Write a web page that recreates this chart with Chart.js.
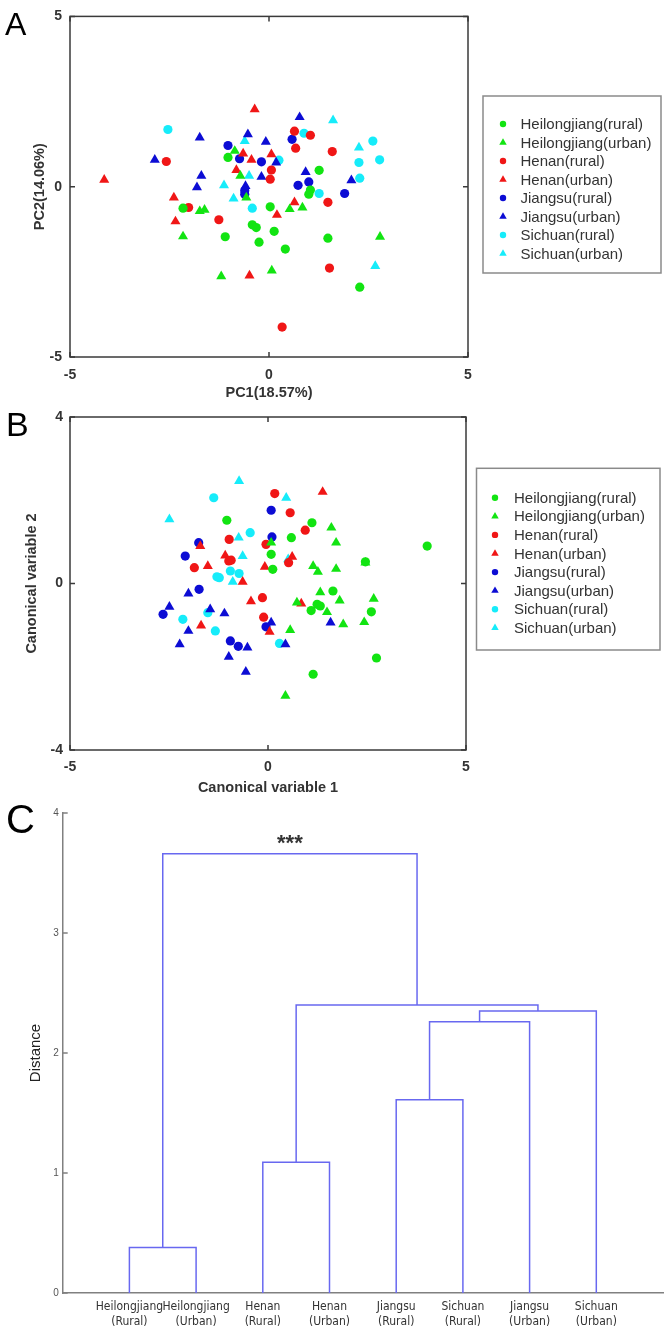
<!DOCTYPE html>
<html><head><meta charset="utf-8">
<script src="https://cdn.jsdelivr.net/npm/chart.js@4.4.1/dist/chart.umd.min.js"></script>
<style>
html,body{margin:0;padding:0;background:#fff;}
#wrap{position:relative;width:672px;height:1341px;overflow:hidden;background:#fff;}
.panel{position:absolute;left:0;width:672px;}
.lbl{position:absolute;font-family:'Liberation Sans',Arial,sans-serif;color:#000;line-height:1;}
</style></head><body>
<div id="wrap">
  <div class="panel" style="top:0;height:400px"><canvas id="cA" width="672" height="400" style="width:672px;height:400px"></canvas></div>
  <div class="panel" style="top:400px;height:400px"><canvas id="cB" width="672" height="400" style="width:672px;height:400px"></canvas></div>
  <div class="panel" style="top:800px;height:541px"><canvas id="cC" width="672" height="541" style="width:672px;height:541px"></canvas></div>
  <div class="lbl" style="left:5px;top:8px;font-size:32px">A</div>
  <div class="lbl" style="left:6px;top:407px;font-size:34px">B</div>
  <div class="lbl" style="left:6px;top:799px;font-size:40px">C</div>
</div>
<script>
// ---------- data ----------
const seriesNames = ['Heilongjiang(rural)','Heilongjiang(urban)','Henan(rural)','Henan(urban)','Jiangsu(rural)','Jiangsu(urban)','Sichuan(rural)','Sichuan(urban)'];

// Panel A: PCA scores [PC1, PC2]
const A_hljR = [[-1.03,0.86],[1.26,0.48],[1.04,-0.10],[1.00,-0.22],[-2.16,-0.63],[0.03,-0.59],[-0.42,-1.12],[-0.32,-1.20],[0.13,-1.31],[-1.10,-1.47],[-0.25,-1.63],[1.48,-1.51],[0.41,-1.83],[2.28,-2.95]];
const A_hljU = [[-0.86,1.05],[-0.72,0.32],[-0.57,-0.32],[-1.74,-0.72],[-1.62,-0.68],[-2.16,-1.46],[-1.20,-2.63],[0.07,-2.46],[0.52,-0.66],[0.84,-0.61],[2.79,-1.47]];
const A_henR = [[-2.58,0.74],[-2.02,-0.61],[-1.26,-0.97],[0.06,0.49],[0.03,0.22],[0.64,1.63],[0.67,1.13],[1.04,1.51],[1.59,1.03],[1.48,-0.46],[1.52,-2.39],[0.33,-4.12]];
const A_henU = [[-4.14,0.20],[-0.36,2.27],[-2.39,-0.32],[-2.35,-1.02],[-0.82,0.49],[-0.65,0.97],[-0.44,0.79],[0.06,0.95],[0.20,-0.83],[-0.49,-2.61],[0.64,-0.46]];
const A_jsR  = [[-1.03,1.21],[-0.74,0.82],[-0.19,0.73],[-0.61,-0.12],[-0.61,-0.22],[0.58,1.39],[0.73,0.04],[1.00,0.14],[1.90,-0.20]];
const A_jsU  = [[-2.87,0.79],[-1.74,1.44],[-1.70,0.32],[-1.81,-0.02],[-0.53,1.54],[-0.08,1.32],[-0.19,0.29],[-0.59,0.02],[0.18,0.71],[0.77,2.04],[0.92,0.43],[2.07,0.19]];
const A_scR  = [[-2.54,1.68],[0.25,0.78],[-0.42,-0.63],[0.88,1.57],[2.61,1.34],[2.26,0.71],[2.78,0.79],[2.28,0.25],[1.26,-0.20]];
const A_scU  = [[-0.61,1.34],[-1.13,0.04],[-0.89,-0.35],[-0.50,0.32],[1.61,1.95],[2.26,1.15],[2.67,-2.33]];

// Panel B: canonical variables [CV1, CV2]
const B_hljR = [[-1.04,1.52],[1.11,1.46],[0.59,1.10],[0.08,0.70],[0.12,0.34],[2.46,0.52],[4.02,0.90],[1.64,-0.18],[1.24,-0.50],[1.32,-0.54],[1.09,-0.65],[2.61,-0.68],[2.74,-1.79],[1.14,-2.18]];
const B_hljU = [[1.60,1.34],[1.72,0.98],[1.14,0.42],[1.26,0.28],[1.72,0.35],[1.32,-0.21],[1.81,-0.41],[2.67,-0.37],[1.49,-0.69],[1.90,-0.98],[2.43,-0.93],[0.73,-0.46],[0.56,-1.12],[0.44,-2.70],[2.46,0.50],[0.08,0.98]];
const B_henR = [[0.17,2.16],[0.56,1.70],[0.94,1.28],[-0.98,1.06],[-0.05,0.94],[-0.99,0.54],[-0.93,0.56],[-1.86,0.38],[-0.14,-0.34],[-0.11,-0.81],[0.52,0.50]];
const B_henU = [[1.38,2.20],[-1.71,0.90],[-1.52,0.42],[-1.08,0.67],[-0.08,0.40],[-0.64,0.04],[-0.43,-0.43],[0.84,-0.48],[-1.69,-1.01],[0.04,-1.16],[0.61,0.64]];
const B_jsR  = [[0.08,1.76],[0.10,1.12],[-1.75,0.98],[-2.09,0.66],[-1.74,-0.14],[-2.65,-0.74],[-0.95,-1.38],[-0.75,-1.51],[-0.05,-1.04]];
const B_jsU  = [[-2.01,-0.24],[-2.49,-0.56],[-1.46,-0.62],[-1.10,-0.72],[0.08,-0.94],[-2.01,-1.14],[-2.23,-1.46],[-0.52,-1.54],[0.44,-1.46],[-0.99,-1.76],[-0.56,-2.12],[1.58,-0.94]];
const B_scR  = [[-1.37,2.06],[-0.45,1.22],[-0.95,0.30],[-0.73,0.24],[-1.29,0.16],[-1.23,0.14],[-2.15,-0.86],[-1.52,-0.70],[-1.33,-1.14],[0.29,-1.44]];
const B_scU  = [[-0.73,2.46],[0.46,2.06],[-2.49,1.54],[-0.74,1.10],[-0.64,0.66],[-0.89,0.04],[0.51,0.58]];

const A_ticks = [-5, 0, 5];
const B_xTicks = [-5, 0, 5];
const B_yTicks = [-4, 0, 4];

// Panel C: dendrogram
const leafNames = ['Heilongjiang','Heilongjiang','Henan','Henan','Jiangsu','Sichuan','Jiangsu','Sichuan'];
const leafTypes = ['Rural','Urban','Rural','Urban','Rural','Rural','Urban','Urban'];
// nodes 1..8 are leaves; node 9+k is merge k
const mergeLeft   = [1, 3, 5, 11, 12, 10, 9];
const mergeRight  = [2, 4, 6, 7, 8, 13, 14];
const mergeHeight = [0.38, 1.09, 1.61, 2.26, 2.35, 2.40, 3.66];
const C_yTicks = [0, 1, 2, 3, 4];
const significance = '***';

// ---------- styles ----------
const colors = ['rgb(18,228,18)','rgb(18,228,18)','rgb(240,22,22)','rgb(240,22,22)','rgb(12,12,212)','rgb(12,12,212)','rgb(22,236,250)','rgb(22,236,250)'];
const shapes = ['circle','triangle','circle','triangle','circle','triangle','circle','triangle'];
const FONT = "'Liberation Sans', Arial, sans-serif";
const NARROW = "'DejaVu Sans Condensed', 'Liberation Sans Narrow', sans-serif";

// ---------- plugins ----------
const framePlugin = {
  id: 'frame',
  afterDraw(chart, args, o) {
    const {ctx, chartArea: a, scales} = chart;
    ctx.save();
    ctx.strokeStyle = o.color; ctx.lineWidth = o.width;
    ctx.strokeRect(a.left, a.top, a.right - a.left, a.bottom - a.top);
    const L = o.tickLen;
    ctx.beginPath();
    scales.x.ticks.forEach(t => {
      const p = scales.x.getPixelForValue(t.value);
      ctx.moveTo(p, a.bottom); ctx.lineTo(p, a.bottom - L);
      ctx.moveTo(p, a.top); ctx.lineTo(p, a.top + L);
    });
    scales.y.ticks.forEach(t => {
      const p = scales.y.getPixelForValue(t.value);
      ctx.moveTo(a.left, p); ctx.lineTo(a.left + L, p);
      ctx.moveTo(a.right, p); ctx.lineTo(a.right - L, p);
    });
    ctx.stroke();
    ctx.restore();
  }
};

const boxLegendPlugin = {
  id: 'boxLegend',
  afterDraw(chart, args, o) {
    const ctx = chart.ctx;
    ctx.save();
    ctx.strokeStyle = o.border; ctx.lineWidth = 1.5;
    ctx.strokeRect(o.x, o.y, o.w, o.h);
    chart.data.datasets.forEach((ds, i) => {
      const cy = o.firstRow + i * o.rowGap;
      ctx.fillStyle = ds.backgroundColor; ctx.strokeStyle = ds.backgroundColor;
      Chart.helpers.drawPoint(ctx, {pointStyle: ds.pointStyle, radius: ds.pointStyle === 'triangle' ? o.triR : o.circR, rotation: 0, borderWidth: 0}, o.markerX, cy);
      ctx.fillStyle = o.textColor;
      ctx.font = o.fontSize + 'px ' + FONT;
      ctx.textBaseline = 'middle'; ctx.textAlign = 'left';
      ctx.fillText(ds.label, o.textX, cy + 1);
    });
    ctx.restore();
  }
};

function scatterSets(groups) {
  return groups.map((pts, i) => ({
    label: seriesNames[i],
    data: pts.map(([x, y]) => ({x, y})),
    pointStyle: shapes[i],
    pointRadius: shapes[i] === 'triangle' ? 5.8 : 4.6,
    pointHoverRadius: 0,
    backgroundColor: colors[i],
    borderColor: colors[i],
    borderWidth: 0
  }));
}

function scatterChart(id, groups, cfg) {
  const tickFont = {family: FONT, size: 14, weight: 'bold'};
  const titleFont = {family: FONT, size: 14.5, weight: 'bold', lineHeight: 1};
  return new Chart(document.getElementById(id), {
    type: 'scatter',
    data: {datasets: scatterSets(groups)},
    plugins: [framePlugin, boxLegendPlugin],
    options: {
      responsive: false, animation: false, devicePixelRatio: 1,
      layout: {padding: {left: 0, top: cfg.top, right: cfg.right, bottom: 0}},
      plugins: {
        legend: {display: false}, tooltip: {enabled: false},
        frame: {color: '#3a3a3a', width: 1.5, tickLen: 5},
        boxLegend: cfg.legend
      },
      scales: {
        x: {
          type: 'linear', min: cfg.xTicks[0], max: cfg.xTicks[cfg.xTicks.length - 1],
          afterBuildTicks: s => { s.ticks = cfg.xTicks.map(v => ({value: v})); },
          afterFit: s => { s.height = cfg.xH; },
          grid: {display: false, drawTicks: false}, border: {display: false},
          ticks: {font: tickFont, color: '#333', padding: cfg.xPad, maxRotation: 0},
          title: {display: true, text: cfg.xTitle, font: titleFont, color: '#333', padding: {top: 0, bottom: cfg.xTitlePad}}
        },
        y: {
          type: 'linear', min: cfg.yTicks[0], max: cfg.yTicks[cfg.yTicks.length - 1],
          afterBuildTicks: s => { s.ticks = cfg.yTicks.map(v => ({value: v})); },
          afterFit: s => { s.width = 70; },
          grid: {display: false, drawTicks: false}, border: {display: false},
          ticks: {font: tickFont, color: '#333', padding: cfg.yPad},
          title: {display: true, text: cfg.yTitle, font: titleFont, color: '#333', padding: {top: cfg.yTitlePad, bottom: 0}}
        }
      }
    }
  });
}

scatterChart('cA', [A_hljR, A_hljU, A_henR, A_henU, A_jsR, A_jsU, A_scR, A_scU], {
  top: 15, right: 204, xH: 43, xPad: 10, xTitlePad: 0, yPad: 8, yTitlePad: 32.75,
  xTicks: A_ticks, yTicks: A_ticks, xTitle: 'PC1(18.57%)', yTitle: 'PC2(14.06%)',
  legend: {x: 483, y: 96, w: 178, h: 177, firstRow: 124, rowGap: 18.5, markerX: 503, textX: 520.5,
           circR: 3.2, triR: 4.3, fontSize: 15, textColor: '#333', border: '#8a8a8a'}
});

scatterChart('cB', [B_hljR, B_hljU, B_henR, B_henU, B_jsR, B_jsU, B_scR, B_scU], {
  top: 17, right: 206, xH: 50, xPad: 8.6, xTitlePad: 4.75, yPad: 7, yTitlePad: 24.75,
  xTicks: B_xTicks, yTicks: B_yTicks, xTitle: 'Canonical variable 1', yTitle: 'Canonical variable 2',
  legend: {x: 476.5, y: 68.3, w: 183.5, h: 181.7, firstRow: 97.7, rowGap: 18.6, markerX: 495, textX: 514,
           circR: 3.2, triR: 4.3, fontSize: 15, textColor: '#333', border: '#8a8a8a'}
});

// ---------- dendrogram ----------
const nodeX = {}, nodeH = {};
leafNames.forEach((_, i) => { nodeX[i + 1] = i + 1; nodeH[i + 1] = 0; });
mergeHeight.forEach((h, k) => {
  const id = 9 + k, l = mergeLeft[k], r = mergeRight[k];
  nodeX[id] = (nodeX[l] + nodeX[r]) / 2; nodeH[id] = h;
});
const linkSets = mergeHeight.map((h, k) => {
  const l = mergeLeft[k], r = mergeRight[k];
  return {
    data: [{x: nodeX[l], y: nodeH[l]}, {x: nodeX[l], y: h}, {x: nodeX[r], y: h}, {x: nodeX[r], y: nodeH[r]}],
    showLine: true, borderColor: 'rgb(104,104,240)', borderWidth: 1.5,
    pointRadius: 0, pointHoverRadius: 0, fill: false, tension: 0
  };
});
const rootId = 9 + mergeHeight.length - 1;

const dendroPlugin = {
  id: 'dendroExtras',
  afterDraw(chart) {
    const {ctx, scales: {x, y}} = chart;
    ctx.save();
    ctx.strokeStyle = '#808080'; ctx.lineWidth = 1.3;
    ctx.beginPath();
    y.ticks.forEach(t => { const p = y.getPixelForValue(t.value); ctx.moveTo(x.left, p); ctx.lineTo(x.left + 5, p); });
    ctx.stroke();
    ctx.fillStyle = '#333';
    ctx.font = 'bold 22px ' + FONT;
    ctx.textAlign = 'center'; ctx.textBaseline = 'alphabetic';
    ctx.fillText(significance, x.getPixelForValue(nodeX[rootId]), y.getPixelForValue(nodeH[rootId]) - 4);
    ctx.restore();
  }
};

new Chart(document.getElementById('cC'), {
  type: 'scatter',
  data: {datasets: linkSets},
  plugins: [dendroPlugin],
  options: {
    responsive: false, animation: false, devicePixelRatio: 1,
    layout: {padding: {left: 0, top: 13, right: 9, bottom: 0}},
    plugins: {legend: {display: false}, tooltip: {enabled: false}},
    scales: {
      x: {
        type: 'linear', min: 0, max: leafNames.length + 1,
        afterBuildTicks: s => { s.ticks = leafNames.map((_, i) => ({value: i + 1})); },
        afterFit: s => { s.height = 48; },
        grid: {display: false, drawTicks: false},
        border: {display: true, color: '#808080', width: 1.5},
        ticks: {
          font: {family: NARROW, size: 12, lineHeight: 1.25},
          color: '#333', padding: 6.5, maxRotation: 0, autoSkip: false,
          callback: v => [leafNames[v - 1], '(' + leafTypes[v - 1] + ')']
        }
      },
      y: {
        type: 'linear', min: 0, max: 4,
        afterBuildTicks: s => { s.ticks = C_yTicks.map(v => ({value: v})); },
        afterFit: s => { s.width = 62.7; },
        grid: {display: false, drawTicks: false},
        border: {display: true, color: '#808080', width: 1.5},
        ticks: {font: {family: FONT, size: 10}, color: '#555', padding: 4},
        title: {display: true, text: 'Distance', font: {family: FONT, size: 15, lineHeight: 1}, color: '#222', padding: {top: 28.5, bottom: 0}}
      }
    }
  }
});
</script>
</body></html>
